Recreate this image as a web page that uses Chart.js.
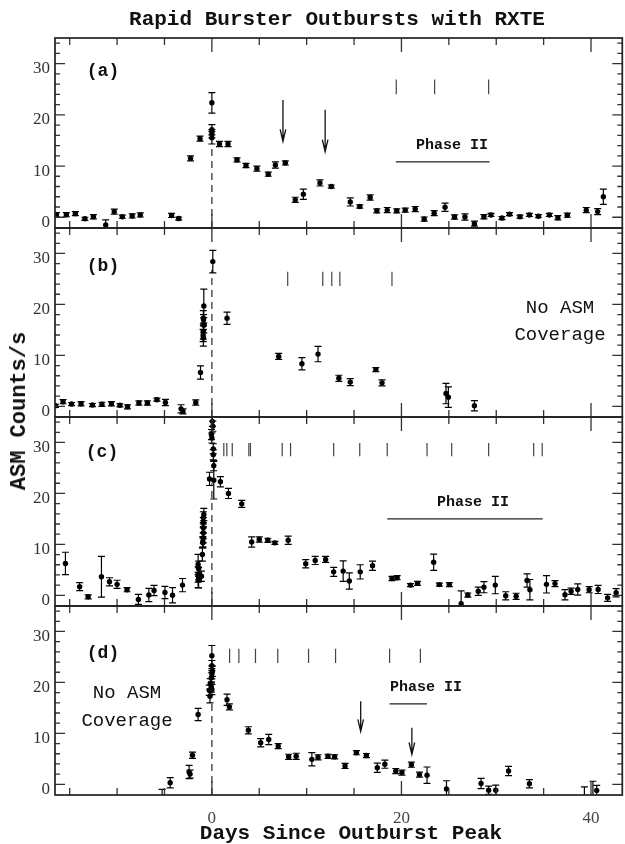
<!DOCTYPE html>
<html>
<head>
<meta charset="utf-8">
<script src="https://cdn.jsdelivr.net/npm/chart.js@4.4.1/dist/chart.umd.min.js"></script>
<style>
  html, body { margin: 0; padding: 0; background: #fff; }
  #wrap { position: relative; width: 625px; height: 844px; overflow: hidden; }
  #wrap canvas { position: absolute; left: 0; top: 0; }
  .t { position: absolute; transform: translate(-50%, -50%); white-space: nowrap; line-height: 1;
       color: #111; font-family: "Liberation Mono", "Courier New", monospace; }
  .b { font-weight: bold; }
</style>
</head>
<body>
<div id="wrap">
  <canvas id="pa" width="625" height="844"></canvas>
  <canvas id="pb" width="625" height="844"></canvas>
  <canvas id="pc" width="625" height="844"></canvas>
  <canvas id="pd" width="625" height="844"></canvas>

  <div class="t b" style="left:337px;top:19px;font-size:21px">Rapid Burster Outbursts with RXTE</div>
  <div class="t b" style="left:20px;top:411px;font-size:22px;transform:translate(-50%,-50%) rotate(-90deg)">ASM Counts/s</div>
  <div class="t b" style="left:351px;top:833px;font-size:21px">Days Since Outburst Peak</div>

  <div class="t b" style="left:103px;top:71px;font-size:18px">(a)</div>
  <div class="t b" style="left:103px;top:266px;font-size:18px">(b)</div>
  <div class="t b" style="left:102px;top:452px;font-size:18px">(c)</div>
  <div class="t b" style="left:103px;top:653px;font-size:18px">(d)</div>

  <div class="t b" style="left:452px;top:145px;font-size:15px">Phase II</div>
  <div class="t b" style="left:473px;top:502px;font-size:15px">Phase II</div>
  <div class="t b" style="left:426px;top:687px;font-size:15px">Phase II</div>

  <div class="t" style="left:560px;top:308px;font-size:19px">No ASM</div>
  <div class="t" style="left:560px;top:335px;font-size:19px">Coverage</div>
  <div class="t" style="left:127px;top:693px;font-size:19px">No ASM</div>
  <div class="t" style="left:127px;top:721px;font-size:19px">Coverage</div>
</div>

<script>
// ---- shared axis ranges
const X_MIN = -16.55, X_MAX = 43.3, Y_MIN = -2.1, Y_MAX = 35;
const X_LABELS = [0, 20, 40];
const Y_LABELS = [0, 10, 20, 30];

// ---- panel (a)
const daysA = [-16.4,-15.35,-14.4,-13.4,-12.5,-11.2,-10.3,-9.45,-8.4,-7.55,-4.25,-3.5,-2.25,-1.25,0,0,0,0,0.8,1.7,
  2.65,3.6,4.75,5.95,6.7,7.75,8.8,9.65,11.4,12.6,14.6,15.6,16.7,17.4,18.5,19.5,20.4,21.45,22.4,23.45,
  24.6,25.6,26.7,27.7,28.7,29.45,30.6,31.4,32.5,33.5,34.45,35.6,36.5,37.5,39.5,40.7,41.3];
const cntA = [0.5,0.5,0.7,-0.3,0.1,-1.5,1.1,0.1,0.25,0.45,0.35,-0.25,11.5,15.35,22.35,17.1,16.3,15.5,14.3,14.3,
  11.2,10.1,9.5,8.4,10.2,10.6,3.4,4.5,6.7,6.0,3.0,2.1,3.85,1.25,1.4,1.25,1.4,1.6,-0.35,0.8,
  1.95,0.05,0.05,-1.25,0.1,0.45,-0.15,0.6,0.1,0.45,0.2,0.45,-0.1,0.4,1.4,1.1,4.0];
const errA = [0.4,0.4,0.4,0.3,0.4,1.0,0.5,0.3,0.4,0.4,0.4,0.3,0.5,0.5,2.0,1.0,0.8,1.2,0.5,0.5,
  0.4,0.4,0.5,0.4,0.6,0.4,0.5,1.0,0.6,0.3,0.8,0.3,0.5,0.4,0.5,0.4,0.4,0.5,0.4,0.5,
  0.8,0.4,0.6,0.5,0.4,0.3,0.3,0.3,0.3,0.3,0.3,0.3,0.4,0.4,0.5,0.6,1.5];
const marksA = [19.45, 23.5, 29.2];
const arrowsA = [[7.5, 22.9, 14.8], [11.95, 21.0, 12.8]];   // day, from, to
const phaseA = [19.4, 29.3, 10.8];                           // from day, to day, level

// ---- panel (b)
const daysB = [-16.5,-15.7,-14.8,-13.8,-12.6,-11.6,-10.6,-9.7,-8.9,-7.7,-6.8,-5.8,-4.9,-3.25,-3.05,-1.7,-1.2,-0.85,-0.9,-0.88,
  -0.85,-0.9,-0.92,-0.9,0.1,1.6,7.05,9.5,11.2,13.4,14.6,17.3,17.95,24.7,24.95,27.7];
const cntB = [0.1,0.9,0.45,0.5,0.25,0.4,0.5,0.2,-0.1,0.65,0.65,1.3,0.75,-0.5,-1.0,0.75,6.65,19.7,17.3,17.0,
  15.9,14.7,13.9,13.4,28.4,17.3,9.8,8.35,10.25,5.5,4.75,7.2,4.6,2.5,1.8,0.1];
const errB = [0.3,0.4,0.3,0.4,0.3,0.4,0.4,0.3,0.4,0.4,0.4,0.3,0.6,0.8,0.5,0.5,1.3,3.3,1.5,1.0,
  1.5,1.5,1.2,1.6,2.2,1.2,0.6,1.2,1.5,0.6,0.7,0.4,0.6,2.0,2.0,1.0];
const marksB = [8.0, 11.7, 12.65, 13.5, 19.0];

// ---- panel (c)
const daysC = [-15.45,-13.95,-13.05,-11.65,-10.8,-10.0,-8.95,-7.75,-6.65,-6.1,-4.95,-4.15,-3.1,
  -1.45,-1.4,-1.45,-1.4,-1.45,-1.1,-1.0,-0.95,-0.9,-0.9,-0.9,-0.9,-0.9,-0.85,-0.95,
  0.05,0.1,-0.05,0.0,0.15,0.15,0.2,-0.25,0.2,0.9,1.75,3.15,4.2,5.0,5.9,6.65,8.05,9.9,10.9,12.0,12.85,13.85,
  14.5,15.65,16.95,19.0,19.55,20.95,21.7,23.4,24.0,25.05,26.3,27.0,28.1,28.7,29.9,31.0,32.1,33.25,33.55,35.3,
  36.2,37.25,37.9,38.6,39.8,40.75,41.75,42.65];
const cntC = [6.25,1.7,-0.3,3.65,2.65,2.15,1.1,-0.8,0.05,0.95,0.55,0,2.0,
  6.05,5.2,4.1,3.45,3.0,3.75,8.0,10.3,11.3,12.3,13.25,14.25,15.2,15.85,10.5,
  34.15,33.2,31.55,30.9,28.75,27.6,25.45,22.85,22.6,22.3,20.0,17.95,10.45,10.95,10.8,10.3,10.8,6.2,6.85,7.05,4.6,4.75,
  2.8,4.6,5.8,3.3,3.45,2.0,2.35,6.5,2.1,2.1,-1.65,0.05,0.8,1.6,2.0,-0.1,-0.2,2.9,1.1,2.15,
  2.3,0.1,0.8,1.15,1.1,1.15,-0.5,0.5];
const errC = [2.2,0.8,0.4,4.0,0.8,0.8,0.4,1.0,1.3,1.0,1.2,1.5,1.3,
  2.0,1.5,1.5,2.0,1.5,1.0,1.3,1.0,1.0,1.2,1.0,1.0,1.2,1.2,1.0,
  1.0,1.0,1.0,1.0,1.0,1.0,1.0,1.3,3.7,1.0,1.0,0.7,1.0,0.5,0.4,0.3,0.8,0.8,0.8,0.6,0.9,2.0,
  1.6,1.4,0.9,0.4,0.4,0.3,0.4,1.6,0.3,0.4,2.5,0.4,0.8,1.1,1.7,0.8,0.6,1.3,2.0,1.7,
  0.6,1.0,0.6,1.1,0.6,0.8,0.7,0.8];
const marksC = [1.26, 1.58, 2.15, 3.9, 4.07, 7.42, 8.3, 12.85, 15.6, 18.5, 22.7, 25.3, 29.2, 33.95, 34.85];
const phaseC = [18.5, 34.9, 15.0];

// ---- panel (d)
const daysD = [-5.25,-4.4,-2.4,-2.3,-2.05,-1.45,0,0,0.05,0,-0.05,-0.17,-0.05,-0.27,0,-0.2,1.6,1.85,3.85,5.15,
  6.0,7.0,8.1,8.9,10.55,11.2,12.25,12.95,14.05,15.25,16.3,17.45,18.25,19.4,20.05,21.05,21.9,22.7,24.75,28.4,
  29.2,29.95,31.3,33.5,39.3,40.2,40.6];
const cntD = [-3.2,0.3,2.4,2.0,5.7,13.7,25.25,23.3,22.2,21.7,20.9,19.75,19.1,18.45,18.6,17.3,16.6,15.2,10.6,8.15,
  8.8,7.5,5.4,5.5,4.9,5.3,5.5,5.4,3.6,6.2,5.65,3.25,3.95,2.6,2.3,3.85,1.9,1.8,-0.9,0.15,
  -1.15,-1.15,2.6,0.1,-3.0,-3.0,-1.2];
const errD = [2.2,1.0,1.3,0.8,0.6,1.2,2.0,1.0,1.0,1.0,1.0,1.0,1.0,1.0,1.0,1.3,1.1,0.6,0.7,0.8,
  1.0,0.5,0.5,0.6,1.3,0.5,0.4,0.4,0.5,0.4,0.4,0.9,0.8,0.5,0.5,0.5,0.5,1.6,1.6,1.0,
  0.8,1.0,0.9,0.8,2.5,3.6,1.0];
const marksD = [1.87, 2.85, 4.6, 6.95, 10.2, 13.05, 18.75, 22.0];
const arrowsD = [[15.7, 16.3, 10.4], [21.1, 11.1, 5.85]];
const phaseD = [18.75, 22.7, 15.8];

Chart.defaults.font.family = '"Liberation Serif", "Times New Roman", serif';

const panels = [
  { id: 'pa', top: 38,  bottom: 228, days: daysA, cnt: cntA, err: errA, marks: marksA, markSpan: [24, 26.9], arrows: arrowsA, phase: phaseA, dashTop: 14.5 },
  { id: 'pb', top: 228, bottom: 417, days: daysB, cnt: cntB, err: errB, marks: marksB, markSpan: [23.6, 26.4], arrows: [], phase: null, dashTop: 26.8 },
  { id: 'pc', top: 417, bottom: 606, days: daysC, cnt: cntC, err: errC, marks: marksC, markSpan: [27.3, 29.9], arrows: [], phase: phaseC, dashTop: 22 },
  { id: 'pd', top: 606, bottom: 795, days: daysD, cnt: cntD, err: errD, marks: marksD, markSpan: [23.8, 26.6], arrows: arrowsD, phase: phaseD, dashTop: 16.6, xAxis: true },
];

/* error bars, markers, arrows, frame and inward ticks */
const panelPlugin = p => ({
  id: 'panel_' + p.id,
  beforeDatasetsDraw(chart) {
    const { ctx, chartArea: a, scales: { x, y } } = chart;
    ctx.save();
    ctx.beginPath();
    ctx.rect(a.left, a.top, a.right - a.left, a.bottom - a.top);
    ctx.clip();

    // dashed line at the outburst peak
    const x0 = x.getPixelForValue(0);
    ctx.strokeStyle = '#444'; ctx.lineWidth = 1.4; ctx.setLineDash([7, 5]);
    ctx.beginPath(); ctx.moveTo(x0, a.bottom); ctx.lineTo(x0, y.getPixelForValue(p.dashTop)); ctx.stroke();
    ctx.setLineDash([]);

    // observation markers
    ctx.strokeStyle = '#444'; ctx.lineWidth = 1.2;
    p.marks.forEach(d => {
      const px = x.getPixelForValue(d);
      ctx.beginPath();
      ctx.moveTo(px, y.getPixelForValue(p.markSpan[0]));
      ctx.lineTo(px, y.getPixelForValue(p.markSpan[1]));
      ctx.stroke();
    });

    // Phase II bar
    if (p.phase) {
      ctx.strokeStyle = '#222'; ctx.lineWidth = 1.3;
      const py = y.getPixelForValue(p.phase[2]);
      ctx.beginPath(); ctx.moveTo(x.getPixelForValue(p.phase[0]), py); ctx.lineTo(x.getPixelForValue(p.phase[1]), py); ctx.stroke();
    }

    // arrows
    ctx.strokeStyle = '#111'; ctx.lineWidth = 1.3;
    p.arrows.forEach(([d, from, to]) => {
      const px = x.getPixelForValue(d), y1 = y.getPixelForValue(from), y2 = y.getPixelForValue(to);
      ctx.beginPath();
      ctx.moveTo(px, y1); ctx.lineTo(px, y2);
      ctx.moveTo(px - 2.8, y2 - 12); ctx.lineTo(px, y2); ctx.lineTo(px + 2.8, y2 - 12);
      ctx.stroke();
    });

    // error bars
    ctx.strokeStyle = '#000'; ctx.lineWidth = 1.2;
    p.days.forEach((d, i) => {
      const px = x.getPixelForValue(d);
      const lo = y.getPixelForValue(p.cnt[i] - p.err[i]);
      const hi = y.getPixelForValue(p.cnt[i] + p.err[i]);
      ctx.beginPath();
      ctx.moveTo(px, lo); ctx.lineTo(px, hi);
      ctx.moveTo(px - 3.5, lo); ctx.lineTo(px + 3.5, lo);
      ctx.moveTo(px - 3.5, hi); ctx.lineTo(px + 3.5, hi);
      ctx.stroke();
    });
    ctx.restore();
  },
  afterDraw(chart) {
    const { ctx, chartArea: a, scales: { x, y } } = chart;
    ctx.save();
    ctx.strokeStyle = '#333'; ctx.lineWidth = 1.3;
    ctx.beginPath();
    for (let v = 0; v <= 34; v += 2) {
      const py = y.getPixelForValue(v), len = v % 10 === 0 ? 10 : 5;
      ctx.moveTo(a.left, py); ctx.lineTo(a.left + len, py);
      ctx.moveTo(a.right, py); ctx.lineTo(a.right - len, py);
    }
    for (let d = -15; d <= 40; d += 5) {
      const px = x.getPixelForValue(d), len = d % 20 === 0 ? 14 : 7;
      ctx.moveTo(px, a.bottom); ctx.lineTo(px, a.bottom - len);
      ctx.moveTo(px, a.top); ctx.lineTo(px, a.top + len);
    }
    ctx.stroke();

    ctx.strokeStyle = '#222'; ctx.lineWidth = 1.7;
    ctx.strokeRect(a.left, a.top, a.right - a.left, a.bottom - a.top);
    ctx.restore();
  },
});

panels.forEach(p => {
  const xH = p.xAxis ? 40 : 0;
  new Chart(document.getElementById(p.id), {
    type: 'scatter',
    data: {
      datasets: [{
        data: p.days.map((d, i) => ({ x: d, y: p.cnt[i] })),
        pointRadius: 2.7, pointHoverRadius: 2.7,
        backgroundColor: '#000', borderWidth: 0,
      }],
    },
    options: {
      responsive: false, animation: false, events: [],
      layout: { padding: { top: p.top, left: 0, right: 1.5, bottom: 844 - p.bottom - xH } },
      plugins: { legend: { display: false }, tooltip: { enabled: false } },
      scales: {
        x: {
          type: 'linear', min: X_MIN, max: X_MAX, display: !!p.xAxis,
          grid: { display: false, drawTicks: false }, border: { display: false },
          afterBuildTicks: s => { s.ticks = X_LABELS.map(v => ({ value: v })); },
          afterFit: s => { s.height = xH; },
          ticks: { color: '#444', font: { size: 17 }, padding: 13, maxRotation: 0 },
        },
        y: {
          min: Y_MIN, max: Y_MAX,
          grid: { display: false, drawTicks: false }, border: { display: false },
          afterBuildTicks: s => { s.ticks = Y_LABELS.map(v => ({ value: v })); },
          afterFit: s => { s.width = 55; },
          ticks: { color: '#333', font: { size: 17 }, padding: 5, labelOffset: 5 },
        },
      },
    },
    plugins: [panelPlugin(p)],
  });
});
</script>
</body>
</html>
